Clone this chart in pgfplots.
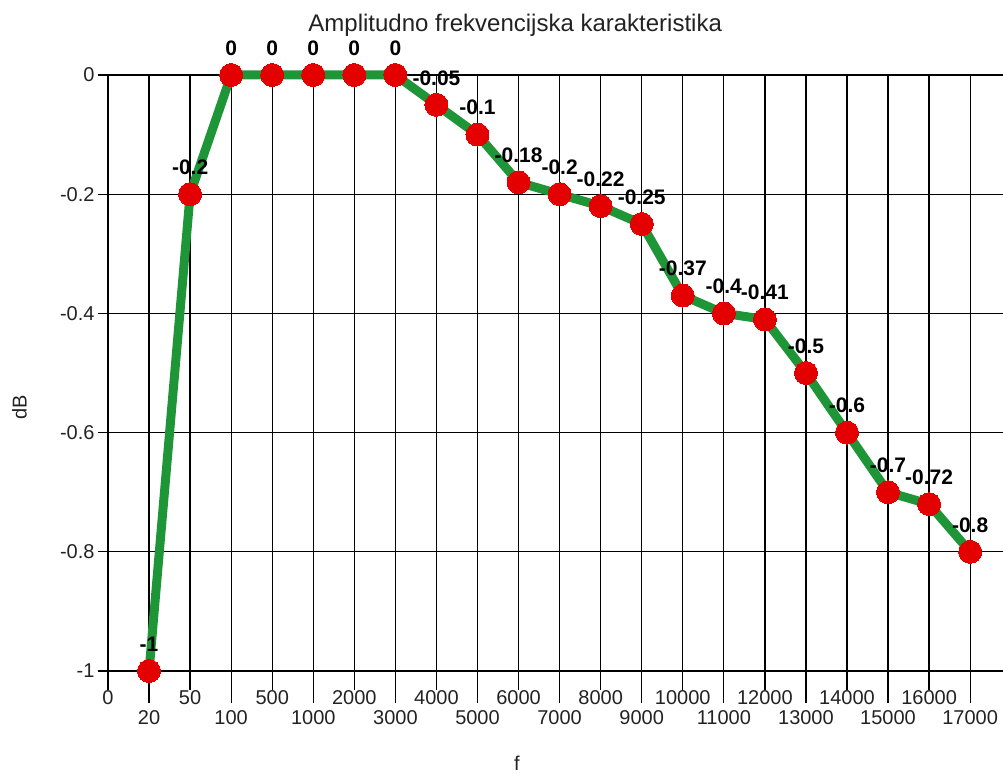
\documentclass[border=0pt]{standalone}
\usepackage{fontspec}
\setmainfont{Liberation Sans}
\usepackage{pgfplots}
\pgfplotsset{compat=1.18}
\definecolor{linegreen}{RGB}{30,150,55}
\definecolor{markred}{RGB}{228,0,0}
\definecolor{minorgray}{RGB}{185,185,185}
\definecolor{txt}{RGB}{34,34,34}

\begin{document}
\begin{tikzpicture}
\begin{axis}[
  scale only axis, width=895pt, height=596pt,
  xmin=0, xmax=21.8, ymin=-1, ymax=0,
  clip=false,
  axis line style={draw=none},
  tick align=outside, tick pos=left,
  major tick length=19pt,
  xtick={0,2,...,20},
  xticklabels={0,50,500,2000,4000,6000,8000,10000,12000,14000,16000},
  xticklabel style={yshift=3pt},
  extra x ticks={1,3,...,21},
  extra x tick labels={20,100,1000,3000,5000,7000,9000,11000,13000,15000,17000},
  extra x tick style={major tick length=32pt, grid=major,
                      xticklabel style={yshift=-7pt}},
  ytick=\empty,
  extra y ticks={-1,-0.8,-0.6,-0.4,-0.2,0},
  extra y tick labels={-1,-0.8,-0.6,-0.4,-0.2,0},
  extra y tick style={major tick length=10pt, grid=major},
  minor ytick={-0.9,-0.7,-0.5,-0.3,-0.1},
  minor tick length=10pt,
  xmajorgrids, yminorgrids,
  major grid style={black, line width=1.3pt},
  minor grid style={minorgray, line width=1.3pt},
  every tick/.append style={black, line width=1.3pt},
  every minor tick/.append style={minorgray, line width=1.3pt},
  tick label style={font=\fontsize{20}{24}\selectfont, text=txt},
  title={Amplitudno frekvencijska karakteristika},
  title style={at={(axis description cs:0.455,1)}, anchor=center, yshift=44pt,
               font=\fontsize{24}{28}\selectfont, text=txt},
  xlabel={f},
  xlabel style={at={(axis description cs:0.457,0)}, anchor=center, yshift=-92pt,
                font=\fontsize{20}{24}\selectfont, text=txt},
  ylabel={dB},
  ylabel style={at={(axis description cs:-0.099,0.443)}, anchor=center,
                font=\fontsize{20}{24}\selectfont, text=txt},
]
\addplot[linegreen, line width=9pt, line join=round,
  mark=*, mark size=11.5pt,
  mark options={fill=markred, draw=markred, line width=0pt},
  point meta=explicit symbolic, nodes near coords,
  every node near coord/.append style={anchor=center, yshift=27pt,
    font=\bfseries\fontsize{21}{24}\selectfont, text=black}]
coordinates {
  (1,-1) [-1]
  (2,-0.2) [-0.2]
  (3,0) [0]
  (4,0) [0]
  (5,0) [0]
  (6,0) [0]
  (7,0) [0]
  (8,-0.05) [-0.05]
  (9,-0.1) [-0.1]
  (10,-0.18) [-0.18]
  (11,-0.2) [-0.2]
  (12,-0.22) [-0.22]
  (13,-0.25) [-0.25]
  (14,-0.37) [-0.37]
  (15,-0.4) [-0.4]
  (16,-0.41) [-0.41]
  (17,-0.5) [-0.5]
  (18,-0.6) [-0.6]
  (19,-0.7) [-0.7]
  (20,-0.72) [-0.72]
  (21,-0.8) [-0.8]
};
\coordinate (bl) at (rel axis cs:0,0);
\coordinate (tr) at (rel axis cs:1,1);
\end{axis}
\pgfresetboundingbox
\path ([shift={(-108pt,-105pt)}]bl) rectangle ([shift={(0pt,75pt)}]tr);
\end{tikzpicture}
\end{document}
